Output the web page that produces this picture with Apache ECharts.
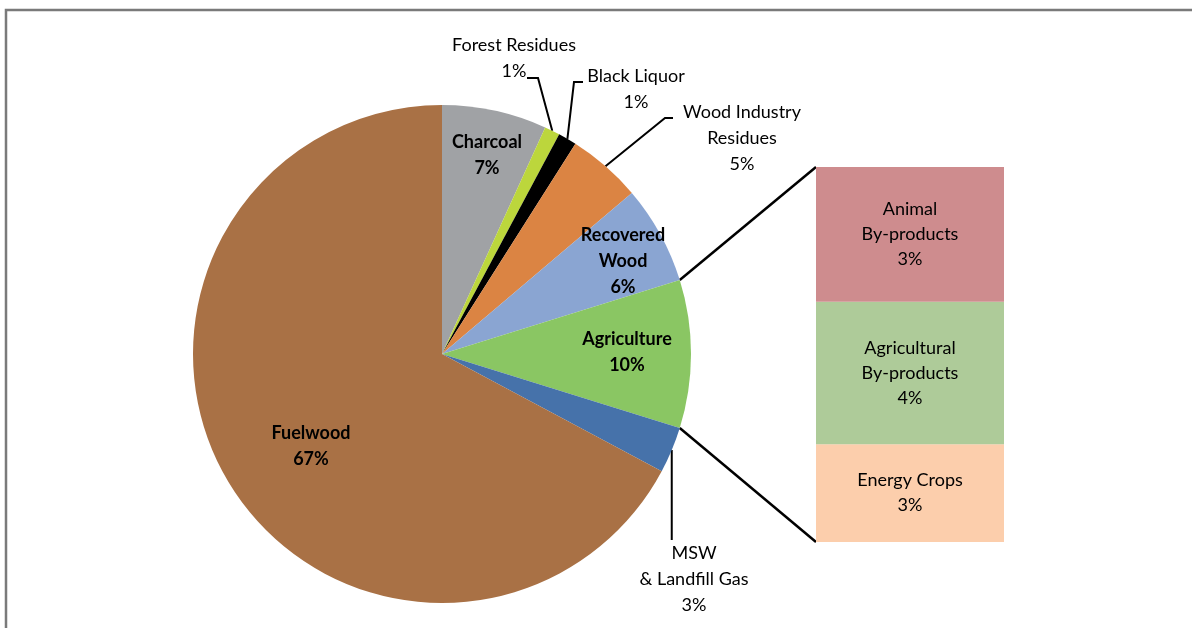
<!DOCTYPE html>
<html>
<head>
<meta charset="utf-8">
<title>Biomass sources</title>
<script src="https://cdn.jsdelivr.net/npm/echarts@6/dist/echarts.min.js"></script>
<style>
  html, body { margin: 0; padding: 0; background: #fff; }
  #chart { width: 1192px; height: 628px; }
</style>
</head>
<body>
<div id="chart"></div>
<script>
// pie slices, clockwise from 12 o'clock (share of total, %)
const sliceNames = ['Charcoal', 'Forest Residues', 'Black Liquor', 'Wood Industry\nResidues',
  'Recovered\nWood', 'Agriculture', 'MSW\n& Landfill Gas', 'Fuelwood'];
const sliceValues = [6.8, 1.0, 1.2, 4.8, 6.4, 9.6, 3.0, 67.2];
const sliceColors = ['#A0A2A5', '#BCD63C', '#000000', '#DB8443', '#8AA5D2', '#8AC663', '#4672AA', '#A97145'];

// breakdown of Agriculture, bottom to top of the bar
const subNames = ['Energy Crops', 'Agricultural\nBy-products', 'Animal\nBy-products'];
const subValues = [2.5, 3.65, 3.45];
const subColors = ['#FCCEAC', '#AECB99', '#CE8C8E'];

const FONT = 'Lato';
const FONT_SIZE = 18;
const PIE = { cx: 442, cy: 354, r: 249 };
const GRID = { left: 816, top: 167, width: 188, height: 375 };
const boldLabels = ['Charcoal', 'Recovered\nWood', 'Agriculture', 'Fuelwood'];

// label centres
const labelPos = {
  'Charcoal': [487, 155],
  'Forest Residues': [514, 58],
  'Black Liquor': [636, 89],
  'Wood Industry\nResidues': [742, 138],
  'Recovered\nWood': [623, 261],
  'Agriculture': [627, 352],
  'MSW\n& Landfill Gas': [694, 579],
  'Fuelwood': [311, 446]
};
// leader line bends (after the point on the rim)
const leaderBends = {
  'Forest Residues': [[538, 78], [527, 78]],
  'Black Liquor': [[574, 82], [583, 82]],
  'Wood Industry\nResidues': [[665, 118], [673, 118]],
  'MSW\n& Landfill Gas': [[null, 540]]
};

const total = sliceValues.reduce((a, b) => a + b, 0);
const subTotal = subValues.reduce((a, b) => a + b, 0);

function rimPoint(frac) {
  const a = frac * 2 * Math.PI;
  return [PIE.cx + PIE.r * Math.sin(a), PIE.cy - PIE.r * Math.cos(a)];
}
// start / end fraction of each slice
const bounds = [];
let acc = 0;
sliceValues.forEach(v => {
  bounds.push([acc / total, (acc + v) / total]);
  acc += v;
});

const chart = echarts.init(document.getElementById('chart'));

const barSeries = subNames.map((name, i) => ({
  name: name,
  type: 'bar',
  stack: 'agri',
  barWidth: '100%',
  data: [subValues[i]],
  itemStyle: { color: subColors[i] },
  label: {
    show: true,
    position: 'inside',
    color: '#000',
    fontFamily: FONT,
    fontSize: FONT_SIZE,
    lineHeight: 25,
    formatter: p => p.seriesName + '\n' + Math.round(p.value) + '%'
  }
}));

chart.setOption({
  animation: false,
  backgroundColor: '#fff',
  grid: GRID,
  xAxis: { type: 'category', data: ['Agriculture'], show: false },
  yAxis: { type: 'value', min: 0, max: subTotal, show: false },
  series: [{
    type: 'pie',
    center: [PIE.cx, PIE.cy],
    radius: PIE.r,
    startAngle: 90,
    clockwise: true,
    avoidLabelOverlap: false,
    silent: true,
    data: sliceNames.map((name, i) => ({
      name: name,
      value: sliceValues[i],
      itemStyle: { color: sliceColors[i] },
      label: { fontWeight: boldLabels.includes(name) ? 'bold' : 'normal' }
    })),
    label: {
      show: true,
      position: 'inside',
      color: '#000',
      fontFamily: FONT,
      fontSize: FONT_SIZE,
      lineHeight: 26,
      align: 'center',
      formatter: p => p.name + '\n' + Math.round(p.value) + '%'
    },
    labelLine: { show: false },
    labelLayout: p => {
      const pos = labelPos[sliceNames[p.dataIndex]];
      return { x: pos[0], y: pos[1], align: 'center', verticalAlign: 'middle' };
    }
  }].concat(barSeries)
});

// connectors, leader lines and frame
const agri = sliceNames.indexOf('Agriculture');
const barTop = chart.convertToPixel({ yAxisIndex: 0 }, subTotal);
const barBottom = chart.convertToPixel({ yAxisIndex: 0 }, 0);
const lineStyle = { stroke: '#000', lineWidth: 2.5, fill: null };

const graphics = [
  {
    type: 'rect',
    shape: { x: 6, y: 10, width: 1300, height: 700 },
    style: { fill: null, stroke: '#7a7a7a', lineWidth: 2.5 }
  },
  {
    type: 'line',
    shape: { x1: rimPoint(bounds[agri][0])[0], y1: rimPoint(bounds[agri][0])[1], x2: GRID.left, y2: barTop },
    style: lineStyle
  },
  {
    type: 'line',
    shape: { x1: rimPoint(bounds[agri][1])[0], y1: rimPoint(bounds[agri][1])[1], x2: GRID.left, y2: barBottom },
    style: lineStyle
  }
];

Object.keys(leaderBends).forEach(name => {
  const i = sliceNames.indexOf(name);
  const start = rimPoint((bounds[i][0] + bounds[i][1]) / 2);
  const pts = [start].concat(leaderBends[name].map(p => [p[0] == null ? start[0] : p[0], p[1]]));
  graphics.push({ type: 'polyline', shape: { points: pts }, style: { stroke: '#000', lineWidth: 2, fill: null } });
});

chart.setOption({ graphic: graphics });
</script>
</body>
</html>
